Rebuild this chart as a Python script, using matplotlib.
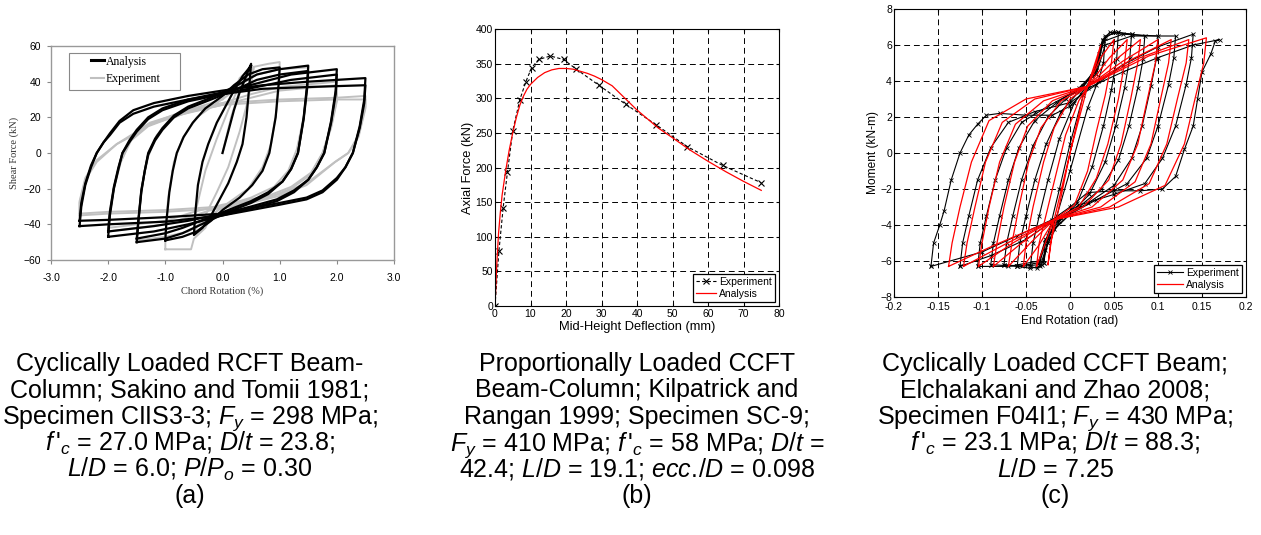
import matplotlib
matplotlib.use('Agg')
import matplotlib.pyplot as plt
from matplotlib.patches import Rectangle

plt.rcParams['font.family'] = ['Liberation Sans', 'DejaVu Sans']
plt.rcParams['mathtext.fontset'] = 'custom'
plt.rcParams['mathtext.rm'] = 'Liberation Sans'
plt.rcParams['mathtext.it'] = 'Liberation Sans:italic'
plt.rcParams['mathtext.bf'] = 'Liberation Sans:bold'

# ---------------- (a) RCFT beam-column, shear force vs chord rotation ----------------
# cycles at amplitude levels 0.5, 1.0, 1.5, 2.0, 2.5 % (plus repeat cycles at 1.5-2.5 %)
A_ANALYSIS_X = [
    [0, 0.1, 0.2, 0.3, 0.4, 0.5, 0.47, 0.42, 0.35, 0.25, 0.1, -0.05, -0.2, -0.35, -0.5,
     -0.48, -0.43, -0.35, -0.25, -0.1, 0.05, 0.2, 0.35, 0.5],
    [-1.0, -0.98, -0.93, -0.87, -0.8, -0.68, -0.52, -0.3, 0, 0.2, 0.45, 0.7, 1.0,
     0.98, 0.93, 0.82, 0.7, 0.52, 0.3, 0, -0.2, -0.45, -0.7, -1.0],
    [-1.5, -1.47, -1.42, -1.36, -1.3, -1.18, -1.05, -0.85, -0.6, -0.2, 0.2, 0.6, 1.0, 1.5,
     1.48, 1.42, 1.32, 1.2, 1.05, 0.8, 0.5, 0.1, -0.3, -0.7, -1.0, -1.5],
    [-2.0, -1.97, -1.9, -1.82, -1.75, -1.63, -1.5, -1.3, -1.05, -0.6, 0, 0.6, 1.2, 2.0,
     1.98, 1.9, 1.78, 1.65, 1.5, 1.25, 0.95, 0.5, 0, -0.6, -1.2, -2.0],
    [-2.5, -2.47, -2.4, -2.3, -2.2, -2.08, -1.97, -1.8, -1.56, -1.2, -0.6, 0, 0.7, 1.5, 2.5,
     2.48, 2.4, 2.28, 2.15, 2.0, 1.75, 1.47, 1.0, 0.5, 0, -1.0, -2.0, -2.5],
    [-1.5, -1.47, -1.42, -1.36, -1.3, -1.18, -1.05, -0.85, -0.6, -0.2, 0.2, 0.6, 1.0, 1.5,
     1.48, 1.42, 1.32, 1.2, 1.05, 0.8, 0.5, 0.1, -0.3, -0.7, -1.0, -1.5],
    [-2.0, -1.97, -1.9, -1.82, -1.75, -1.63, -1.5, -1.3, -1.05, -0.6, 0, 0.6, 1.2, 2.0,
     1.98, 1.9, 1.78, 1.65, 1.5, 1.25, 0.95, 0.5, 0, -0.6, -1.2, -2.0],
    [-2.5, -2.47, -2.4, -2.3, -2.2, -2.08, -1.97, -1.8, -1.56, -1.2, -0.6, 0, 0.7, 1.5, 2.5,
     2.48, 2.4, 2.28, 2.15, 2.0, 1.75, 1.47, 1.0, 0.5, 0, -1.0, -2.0, -2.5],
]
A_ANALYSIS_Y = [
    [0, 12, 24, 34, 42, 50, 38, 20, 5, -5, -17, -26, -35, -42, -46,
     -35, -18, -5, 5, 17, 26, 35, 43, 49],
    [-49, -38, -22, -10, 0, 9, 17, 25, 32, 38, 44, 47, 48,
     38, 20, 0, -10, -18, -25, -32, -38, -44, -47, -49],
    [-50, -38, -22, -10, 0, 8, 14, 21, 26, 31, 37, 44, 47, 49,
     38, 20, 0, -9, -16, -23, -28, -33, -39, -45, -48, -50],
    [-47, -35, -20, -9, 0, 7, 13, 20, 25, 30, 34, 39, 44, 47,
     35, 18, 0, -8, -15, -22, -27, -31, -35, -40, -44, -47],
    [-41, -30, -18, -8, 0, 6, 11, 18, 24, 28, 32, 35, 38, 40, 42,
     30, 15, 0, -8, -15, -22, -26, -29, -32, -35, -38.5, -40, -41],
    [-48, -37, -21, -10, -1, 7, 13, 20, 25, 30, 35, 41, 44, 46,
     36, 19, 0, -9, -16, -22, -27, -32, -37, -42, -45, -48],
    [-44, -33, -19, -8, 0, 6, 12, 19, 24, 29, 33, 37, 41, 44,
     33, 17, 0, -8, -15, -21, -26, -30, -34, -38, -41, -44],
    [-38, -28, -17, -7, 0, 6, 10, 17, 22, 26, 30, 33, 36, 37, 38,
     28, 14, 0, -8, -14, -21, -25, -28, -31, -34, -36, -37.5, -38],
]
A_EXPERIMENT_X = [
    [0, 0.15, 0.3, 0.45, 0.55, 0.45, 0.3, 0.1, -0.1, -0.3, -0.5, -0.45, -0.3, -0.1, 0.1, 0.3, 0.5],
    [-1.0, -1.0, -0.95, -0.85, -0.7, -0.45, -0.1, 0.2, 0.3, 0.5, 0.8, 1.0,
     1.0, 0.95, 0.85, 0.7, 0.45, 0.1, -0.2, -0.3, -0.5, -0.55, -1.0],
    [-1.5, -1.48, -1.42, -1.3, -1.15, -0.9, -0.5, 0, 0.3, 0.6, 1.0, 1.5,
     1.48, 1.42, 1.3, 1.15, 0.9, 0.5, 0, -0.3, -0.6, -1.0, -1.5],
    [-2.0, -1.98, -1.9, -1.78, -1.6, -1.3, -0.8, 0, 0.5, 1.0, 2.0,
     2.0, 1.9, 1.75, 1.55, 1.2, 0.8, 0, -0.5, -1.0, -2.0],
    [-2.5, -2.5, -2.4, -2.2, -1.85, -1.5, -1.27, -0.57, 0, 1.0, 2.0, 2.5,
     2.5, 2.38, 2.2, 1.97, 1.47, 1.0, 0.5, 0, -1.0, -2.0, -2.5],
    [-2.0, -1.98, -1.9, -1.78, -1.6, -1.3, -0.8, 0, 0.5, 1.0, 2.0,
     2.0, 1.9, 1.75, 1.55, 1.2, 0.8, 0, -0.5, -1.0, -2.0],
    [-2.5, -2.5, -2.4, -2.2, -1.85, -1.5, -1.27, -0.57, 0, 1.0, 2.0, 2.5,
     2.5, 2.38, 2.2, 1.97, 1.47, 1.0, 0.5, 0, -1.0, -2.0, -2.5],
]
A_EXPERIMENT_Y = [
    [0, 20, 35, 44, 48, 30, 12, -8, -22, -35, -44, -30, -10, 8, 24, 38, 46],
    [-54, -45, -25, -5, 8, 20, 28, 35, 42, 48, 50, 51,
     42, 25, 5, -8, -20, -28, -35, -42, -48, -54, -54],
    [-49, -40, -20, -2, 10, 19, 25, 30, 38, 44, 47, 48,
     40, 20, 2, -10, -19, -25, -30, -38, -44, -47, -49],
    [-44, -36, -20, -5, 8, 16, 22, 28, 33, 37, 40,
     30, 15, 0, -12, -20, -25, -30, -35, -40, -44],
    [-35, -28, -15, -5, 5, 12, 17, 24, 28, 30, 31, 32,
     26, 10, 0, -5, -18, -24, -28, -31, -33, -34, -35],
    [-42, -34, -19, -5, 7, 15, 21, 27, 31, 35, 38,
     29, 14, 0, -11, -19, -24, -29, -33, -38, -42],
    [-34, -27, -14, -4, 5, 11, 16, 23, 27, 29, 30, 30,
     25, 9, 0, -5, -17, -23, -27, -30, -32, -33, -34],
]

# ---------------- (b) CCFT beam-column, axial force vs mid-height deflection ----------------
B_EXP_X = [0, 1.1, 2.3, 3.5, 5.0, 7.0, 8.7, 10.3, 12.3, 15.6, 19.3, 22.9, 29.2, 36.9, 45.3, 54.2, 64.1, 75.0]
B_EXP_Y = [0, 79, 142, 193, 253, 298, 324, 344, 356, 361, 356, 342, 319, 291, 262, 230, 203, 178]
B_ANA_X = [0, 0.5, 1, 1.5, 2, 3, 4, 5, 6, 7, 8, 9, 10, 12, 14, 16, 18, 20, 22, 24, 26, 28, 30,
           33, 36, 38, 40, 43, 46, 50, 55, 60, 65, 70, 75]
B_ANA_Y = [0, 60, 105, 135, 160, 195, 225, 250, 272, 290, 303, 313, 320, 330, 337, 341, 343, 343, 342, 339, 336, 332, 327,
           318, 303, 293, 283, 270, 257, 243, 225, 209, 194, 180, 167]

# ---------------- (c) CCFT beam, moment vs end rotation ----------------
C_ANALYSIS_X = [
    [-0.025, -0.022, -0.015, 0.0, 0.015, 0.02, 0.035, 0.03, 0.02, 0.0, -0.018, -0.025],
    [-0.038, -0.035, -0.025, -0.015, -0.005, 0.01, 0.02, 0.035, 0.05, 0.047, 0.04, 0.03, 0.02, 0.005, -0.018, -0.028, -0.038],
    [-0.053, -0.05, -0.042, -0.03, -0.018, 0, 0.02, 0.045, 0.065, 0.062, 0.055, 0.043, 0.03, 0.01, -0.018, -0.035, -0.053],
    [-0.07, -0.066, -0.058, -0.047, -0.033, -0.01, 0.02, 0.05, 0.08, 0.077, 0.069, 0.058, 0.044, 0.015, -0.018, -0.045, -0.07],
    [-0.087, -0.083, -0.075, -0.063, -0.048, -0.02, 0.02, 0.06, 0.1, 0.097, 0.088, 0.077, 0.06, 0.025, -0.018, -0.055, -0.087],
    [-0.104, -0.1, -0.092, -0.08, -0.062, -0.03, 0.02, 0.07, 0.115, 0.112, 0.103, 0.092, 0.074, 0.035, -0.018, -0.065, -0.104],
    [-0.121, -0.117, -0.108, -0.096, -0.077, -0.04, 0.02, 0.08, 0.135, 0.132, 0.122, 0.11, 0.09, 0.045, -0.018, -0.075, -0.121],
    [-0.138, -0.134, -0.125, -0.112, -0.092, -0.05, 0.02, 0.09, 0.155, 0.152, 0.142, 0.13, 0.108, 0.055, -0.018, -0.085, -0.138],
]
C_ANALYSIS_Y = [
    [-6.2, -5, -3.6, 0, 3.2, 3.7, 6.0, 5, 3.7, 0, -3.7, -6.2],
    [-6.3, -5, -3, -1, 1, 2.9, 3.7, 5.3, 6.3, 5, 3.2, 1.2, -1, -2.9, -3.7, -5, -6.3],
    [-6.3, -5, -3, -0.5, 1.4, 3, 3.7, 5.3, 6.3, 5, 3, 0.5, -1.4, -3, -3.7, -5.1, -6.3],
    [-6.3, -5, -3, -0.5, 1.4, 2.9, 3.7, 5.1, 6.3, 5, 3, 0.5, -1.5, -3, -3.7, -5, -6.3],
    [-6.3, -5, -3, -0.5, 1.5, 2.9, 3.7, 5.1, 6.3, 5, 3, 0.5, -1.5, -3, -3.7, -5, -6.3],
    [-6.3, -5, -3, -0.5, 1.6, 2.9, 3.7, 5.2, 6.3, 5, 3, 0.5, -1.6, -3, -3.7, -5, -6.3],
    [-6.3, -5, -3, -0.5, 1.7, 3, 3.7, 5.3, 6.3, 5, 3, 0.5, -1.7, -3, -3.7, -5.1, -6.3],
    [-6.3, -5, -3, -0.5, 1.8, 3, 3.7, 5.4, 6.4, 5, 3, 0.5, -1.8, -3, -3.7, -5.1, -6.3],
]
C_EXPERIMENT_X = [
    [-0.03, -0.028, -0.022, -0.012, 0.0, 0.015, 0.028, 0.035, 0.04, 0.038, 0.032, 0.02, 0.0, -0.015, -0.025, -0.03],
    [-0.045, -0.042, -0.035, -0.025, -0.012, 0.005, 0.02, 0.032, 0.038, 0.045, 0.055, 0.053, 0.047, 0.038, 0.025, 0.008, -0.012, -0.025, -0.032, -0.038, -0.045],
    [-0.06, -0.057, -0.05, -0.04, -0.027, -0.01, 0.01, 0.025, 0.033, 0.04, 0.055, 0.07, 0.068, 0.062, 0.052, 0.04, 0.022, 0.0, -0.018, -0.028, -0.034, -0.045, -0.06],
    [-0.075, -0.072, -0.065, -0.055, -0.042, -0.025, -0.005, 0.015, 0.03, 0.037, 0.05, 0.07, 0.085, 0.083, 0.077, 0.067, 0.055, 0.035, 0.01, -0.015, -0.028, -0.035, -0.055, -0.075],
    [-0.09, -0.087, -0.08, -0.07, -0.058, -0.04, -0.015, 0.01, 0.03, 0.038, 0.06, 0.1, 0.098, 0.092, 0.082, 0.07, 0.05, 0.02, -0.01, -0.028, -0.036, -0.06, -0.09],
    [-0.105, -0.102, -0.095, -0.085, -0.072, -0.055, -0.025, 0.005, 0.03, 0.04, 0.07, 0.12, 0.118, 0.112, 0.1, 0.087, 0.065, 0.03, 0.0, -0.025, -0.035, -0.07, -0.105],
    [-0.125, -0.122, -0.115, -0.105, -0.09, -0.07, -0.04, 0.0, 0.03, 0.06, 0.1, 0.14, 0.138, 0.132, 0.12, 0.105, 0.085, 0.05, 0.01, -0.02, -0.05, -0.09, -0.125],
    [-0.158, -0.155, -0.148, -0.143, -0.135, -0.125, -0.115, -0.105, -0.095, -0.08, -0.05, -0.02, 0.0, 0.02, 0.06, 0.1, 0.14, 0.17,
     0.165, 0.16, 0.15, 0.145, 0.14, 0.13, 0.12, 0.105, 0.08, 0.05, 0.02, 0.0, -0.02, -0.06, -0.1, -0.158],
]
C_EXPERIMENT_Y = [
    [-6.1, -5, -4, -2, 0.5, 3.2, 4.5, 6.0, 6.4, 5, 4, 2.5, -1, -3.5, -4.8, -6.1],
    [-6.3, -5, -3.5, -1.5, 0.8, 2.8, 3.8, 5, 6.3, 6.7, 6.7, 5.2, 3.5, 1.5, -0.8, -2.8, -3.8, -5, -6.2, -6.4, -6.3],
    [-6.3, -5, -3.5, -1.5, 0.5, 2.3, 3.4, 4.3, 5.5, 6.5, 6.7, 6.6, 5.3, 3.6, 1.5, -0.5, -2.3, -3.4, -4.2, -5.4, -6.3, -6.4, -6.3],
    [-6.2, -5, -3.5, -1.5, 0.4, 2.0, 3.0, 3.7, 4.8, 6.3, 6.7, 6.6, 6.5, 5.2, 3.6, 1.5, -0.4, -2.0, -3.0, -3.8, -5, -6.2, -6.3, -6.2],
    [-6.2, -5, -3.5, -1.5, 0.3, 1.8, 2.8, 3.6, 4.6, 6.2, 6.6, 6.5, 5.2, 3.7, 1.5, -0.3, -1.8, -2.8, -3.6, -4.8, -6.1, -6.3, -6.2],
    [-6.3, -5, -3.5, -1.5, 0.3, 1.7, 2.6, 3.4, 4.4, 6.0, 6.5, 6.5, 5.3, 3.8, 1.5, -0.3, -1.7, -2.6, -3.4, -4.6, -6.0, -6.3, -6.3],
    [-6.3, -5, -3.5, -1.5, 0.3, 1.7, 2.3, 2.8, 3.8, 4.9, 5.9, 6.6, 5.3, 3.8, 1.5, -0.3, -1.7, -2.3, -2.9, -3.8, -4.8, -5.7, -6.3],
    [-6.3, -5, -4, -3.2, -1.5, 0, 1, 1.6, 2.1, 2.2, 2.1, 2.1, 2.6, 3.6, 4.5, 5.3, 6.0, 6.3,
     6.2, 5.5, 4.5, 3, 1.5, 0.2, -1.3, -2, -2.1, -2.1, -2.2, -3, -3.7, -4.6, -5.5, -6.3],
]

# ---------------- captions ----------------
CAPTION_A = ["Cyclically Loaded RCFT Beam-", "Column; Sakino and Tomii 1981;",
             r"Specimen CIIS3-3; $F_y$ = 298 MPa;", r"$f\,$'$_c$ = 27.0 MPa; $D/t$ = 23.8;",
             r"$L/D$ = 6.0; $P/P_o$ = 0.30", "(a)"]
CAPTION_B = ["Proportionally Loaded CCFT", "Beam-Column; Kilpatrick and",
             "Rangan 1999; Specimen SC-9;", r"$F_y$ = 410 MPa; $f\,$'$_c$ = 58 MPa; $D/t$ =",
             r"42.4; $L/D$ = 19.1; $ecc.\!/D$ = 0.098", "(b)"]
CAPTION_C = ["Cyclically Loaded CCFT Beam;", "Elchalakani and Zhao 2008;",
             r"Specimen F04I1; $F_y$ = 430 MPa;", r"$f\,$'$_c$ = 23.1 MPa; $D/t$ = 88.3;",
             r"$L/D$ = 7.25", "(c)"]

W, H = 1261, 535
fig = plt.figure(figsize=(W / 100, H / 100), dpi=100)


def px_axes(left, top, right, bottom):
    return fig.add_axes([left / W, 1 - bottom / H, (right - left) / W, (bottom - top) / H])


# ---- panel (a)
serif = ['Liberation Serif', 'DejaVu Serif']
grey = '#c0c0c0'
ax = px_axes(51, 46, 394, 260)
for xs, ys in zip(A_EXPERIMENT_X, A_EXPERIMENT_Y):
    ax.plot(xs, ys, color=grey, lw=1.4)
for xs, ys in zip(A_ANALYSIS_X, A_ANALYSIS_Y):
    ax.plot(xs, ys, color='black', lw=1.6)
ax.plot([], [], color='black', lw=2.2, label='Analysis')
ax.plot([], [], color=grey, lw=1.5, label='Experiment')
ax.set_xlim(-3, 3)
ax.set_ylim(-60, 60)
ax.set_xticks([-3, -2, -1, 0, 1, 2, 3])
ax.set_xticklabels(['-3.0', '-2.0', '-1.0', '0.0', '1.0', '2.0', '3.0'])
ax.set_yticks([-60, -40, -20, 0, 20, 40, 60])
ax.tick_params(labelsize=7.5, direction='out', length=3, color='#888888')
ax.tick_params(axis='x', pad=6)
ax.tick_params(axis='y', pad=4)
for s in ax.spines.values():
    s.set_color('#999999')
    s.set_linewidth(1.0)
ax.set_xlabel('Chord Rotation (%)', fontsize=7.5, family=serif, color='#333333', labelpad=3)
ax.set_ylabel('Shear Force (kN)', fontsize=7.5, family=serif, color='#333333', labelpad=3)
ax.add_patch(Rectangle((0.0525, 0.794), 0.3236, 0.173, transform=ax.transAxes,
                       fill=False, ec='#888888', lw=0.8, zorder=5))
ax.legend(loc='upper left', bbox_to_anchor=(0.117, 0.955), prop={'family': serif, 'size': 8.5},
          frameon=False, handlelength=1.1, borderpad=0, borderaxespad=0,
          labelspacing=0.45, handletextpad=0.15)

# ---- panel (b)
ax = px_axes(495, 29, 779, 306)
ax.plot(B_EXP_X, B_EXP_Y, color='black', ls='--', lw=0.8, marker='x', ms=4, mew=0.8,
        dashes=(3, 2), label='Experiment')
ax.plot(B_ANA_X, B_ANA_Y, color='red', lw=0.9, label='Analysis')
ax.set_xlim(0, 80)
ax.set_ylim(0, 400)
ax.set_xticks(range(0, 81, 10))
ax.set_yticks(range(0, 401, 50))
ax.grid(True, color='black', ls=(0, (6, 4)), lw=0.7)
ax.tick_params(labelsize=7.5, direction='in', length=2.5, pad=1.5, top=True, right=True)
ax.tick_params(axis='x', pad=2.5)
for s in ax.spines.values():
    s.set_linewidth(0.8)
ax.set_xlabel('Mid-Height Deflection (mm)', fontsize=9.3, labelpad=1)
ax.set_ylabel('Axial Force (kN)', fontsize=9.3, labelpad=1)
leg = ax.legend(loc='lower right', fontsize=7.5, frameon=True, fancybox=False, edgecolor='black',
                framealpha=1, borderpad=0.3, labelspacing=0.2, handlelength=1.9, handletextpad=0.3,
                borderaxespad=0.4)
leg.get_frame().set_linewidth(0.9)

# ---- panel (c)
ax = px_axes(894, 9, 1246, 297)
for xs, ys in zip(C_EXPERIMENT_X, C_EXPERIMENT_Y):
    ax.plot(xs, ys, color='black', lw=0.8, marker='x', ms=2.2, mew=0.6)
for xs, ys in zip(C_ANALYSIS_X, C_ANALYSIS_Y):
    ax.plot(xs, ys, color='red', lw=0.9)
ax.plot([], [], color='black', lw=0.8, marker='x', ms=2.2, mew=0.6, label='Experiment')
ax.plot([], [], color='red', lw=0.9, label='Analysis')
ax.set_xlim(-0.2, 0.2)
ax.set_ylim(-8, 8)
ax.set_xticks([-0.2, -0.15, -0.1, -0.05, 0, 0.05, 0.1, 0.15, 0.2])
ax.set_xticklabels(['-0.2', '-0.15', '-0.1', '-0.05', '0', '0.05', '0.1', '0.15', '0.2'])
ax.set_yticks(range(-8, 9, 2))
ax.grid(True, color='black', ls=(0, (6, 4)), lw=0.7)
ax.tick_params(labelsize=7.5, direction='in', length=2.5, pad=1.5, top=True, right=True)
ax.tick_params(axis='x', pad=3.5)
for s in ax.spines.values():
    s.set_linewidth(0.8)
ax.set_xlabel('End Rotation (rad)', fontsize=8.6, labelpad=2)
ax.set_ylabel('Moment (kN-m)', fontsize=8.6, labelpad=1)
leg = ax.legend(loc='lower right', fontsize=7.5, frameon=True, fancybox=False, edgecolor='black',
                framealpha=1, borderpad=0.3, labelspacing=0.2, handlelength=2.5, handletextpad=0.3,
                borderaxespad=0.4)
leg.get_frame().set_linewidth(0.9)

# ---- captions
line_y = [371, 397.5, 424, 450.5, 477, 503.5]
for cx, lines in [(190, CAPTION_A), (637, CAPTION_B), (1055, CAPTION_C)]:
    for ly, txt in zip(line_y, lines):
        fig.text(cx / W, 1 - ly / H, txt, ha='center', va='baseline', fontsize=18)

fig.savefig('out.png', dpi=100)
